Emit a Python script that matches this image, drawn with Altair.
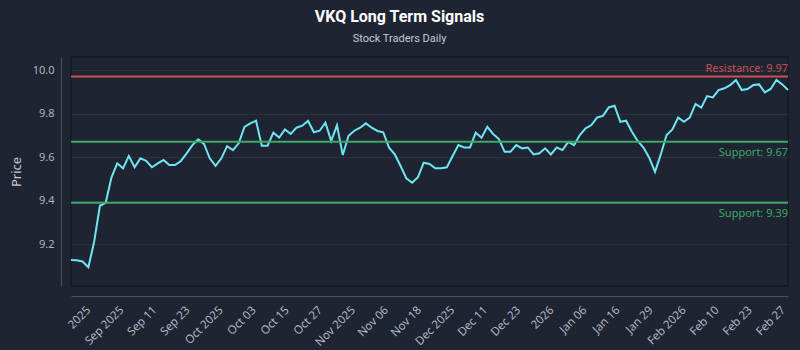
import altair as alt
import pandas as pd

prices = [
    9.126, 9.125, 9.12, 9.093, 9.21, 9.376, 9.39, 9.507, 9.571, 9.548, 9.605, 9.553,
    9.594, 9.583, 9.553, 9.571, 9.586, 9.563, 9.563, 9.582, 9.617, 9.655, 9.681, 9.66,
    9.594, 9.559, 9.594, 9.65, 9.632, 9.663, 9.739, 9.755,
    9.767, 9.652, 9.652, 9.712, 9.69, 9.727, 9.706, 9.735, 9.744, 9.766, 9.714, 9.721,
    9.758, 9.674, 9.746, 9.609, 9.698, 9.721, 9.735, 9.755, 9.735, 9.72, 9.714, 9.643,
    9.612, 9.559, 9.502, 9.482, 9.507, 9.574,
    9.568, 9.548, 9.548, 9.553, 9.605, 9.655, 9.644, 9.644, 9.712, 9.689, 9.739, 9.706,
    9.683, 9.624, 9.624, 9.655, 9.64, 9.644, 9.612, 9.617, 9.64, 9.612, 9.644, 9.632,
    9.67, 9.655, 9.701, 9.732, 9.747, 9.782, 9.789,
    9.828, 9.836, 9.762, 9.767, 9.716, 9.674, 9.644, 9.597, 9.532, 9.612, 9.701, 9.727,
    9.782, 9.762, 9.781, 9.844, 9.827, 9.88, 9.874, 9.908, 9.916, 9.931, 9.954, 9.908,
    9.913, 9.931, 9.934, 9.897, 9.913, 9.954, 9.934, 9.908,
]

tick_labels = ["2025", "Sep 2025", "Sep 11", "Sep 23", "Oct 2025", "Oct 03", "Oct 15",
               "Oct 27", "Nov 2025", "Nov 06", "Nov 18", "Dec 2025", "Dec 11", "Dec 23",
               "2026", "Jan 06", "Jan 16", "Jan 29", "Feb 2026", "Feb 10", "Feb 23", "Feb 27"]
tick_pos = [2.32, 8.04, 13.76, 19.48, 25.2, 30.92, 36.64, 42.36, 48.08, 53.8, 59.52,
            65.24, 70.96, 76.68, 82.4, 88.12, 93.84, 99.56, 105.28, 111.0, 116.72, 122.44]

level_values = [9.97, 9.67, 9.39]
level_kinds = ["Resistance", "Support", "Support"]
level_texts = ["Resistance: 9.97", "Support: 9.67", "Support: 9.39"]

BG = "#1f2433"
LINE = "#6ee6f2"
RED = "#c9504f"
GREEN = "#3aaa66"
N = len(prices)

df = pd.DataFrame({"i": list(range(N)), "price": prices})
lv = pd.DataFrame({"y": level_values, "kind": level_kinds, "label": level_texts,
                   "x": [N - 1] * 3})

arr = "[" + ",".join("'%s'" % t for t in tick_labels) + "]"
vals = "[" + ",".join(str(v) for v in tick_pos) + "]"

xscale = alt.Scale(domain=[0, N - 1], nice=False, zero=False)
yscale = alt.Scale(domain=[9.007, 10.06], nice=False, zero=False)
color_scale = alt.Scale(domain=["Resistance", "Support"], range=[RED, GREEN])

x_axis = alt.Axis(
    values=tick_pos, labelExpr=f"{arr}[indexof({vals}, datum.value)]",
    labelAngle=-45, labelOverlap=False, labelBound=False, ticks=False,
    labelPadding=8, offset=10, grid=False, title=None,
    labelColor="#b9bfca", labelFontSize=11.5, labelFont="Open Sans",
    domainColor="#4a5162")
y_axis = alt.Axis(
    values=[9.2, 9.4, 9.6, 9.8, 10.0], format=".1f", offset=10, ticks=False,
    labelPadding=7, grid=True, gridColor="#2a3041", domainColor="#4a5162",
    labelColor="#aeb4c0", labelFontSize=11, labelFont="Noto Sans",
    title="Price", titleColor="#c4c9d2", titleFontSize=13, titleFontWeight="normal",
    titleFont="Noto Sans", titlePadding=9)

line = alt.Chart(df).mark_line(color=LINE, strokeWidth=2).encode(
    x=alt.X("i:Q", scale=xscale, axis=x_axis),
    y=alt.Y("price:Q", scale=yscale, axis=y_axis),
)

rules = alt.Chart(lv).mark_rule(strokeWidth=2).encode(
    y=alt.Y("y:Q", scale=yscale, axis=y_axis),
    color=alt.Color("kind:N", scale=color_scale, legend=None),
)

res_text = alt.Chart(lv).transform_filter("datum.kind == 'Resistance'").mark_text(
    align="right", baseline="bottom", dy=-3, fontSize=11, font="Noto Sans").encode(
    x=alt.X("x:Q", scale=xscale, axis=x_axis), y=alt.Y("y:Q", scale=yscale, axis=y_axis),
    text="label:N", color=alt.Color("kind:N", scale=color_scale, legend=None))

sup_text = alt.Chart(lv).transform_filter("datum.kind == 'Support'").mark_text(
    align="right", baseline="top", dy=5, fontSize=11, font="Noto Sans").encode(
    x=alt.X("x:Q", scale=xscale, axis=x_axis), y=alt.Y("y:Q", scale=yscale, axis=y_axis),
    text="label:N", color=alt.Color("kind:N", scale=color_scale, legend=None))

chart = alt.layer(line, rules, res_text, sup_text).properties(
    width=717, height=229,
    title=alt.TitleParams(text="VKQ Long Term Signals", subtitle="Stock Traders Daily",
                          anchor="middle", dx=-30, fontSize=16, fontWeight="bold",
                          font="Roboto", color="#ffffff",
                          subtitleColor="#c5cad3", subtitleFontSize=11,
                          subtitleFont="Roboto", subtitlePadding=8,
                          offset=13),
    autosize=alt.AutoSizeParams(type="none"),
    padding={"left": 71, "top": 57, "right": 12, "bottom": 64},
    background=BG,
).configure_view(stroke="#141823", strokeWidth=1.5).configure_axisX(labelOverlap=False)

chart.save("out.html", embed_options={"renderer": "svg", "actions": False})
